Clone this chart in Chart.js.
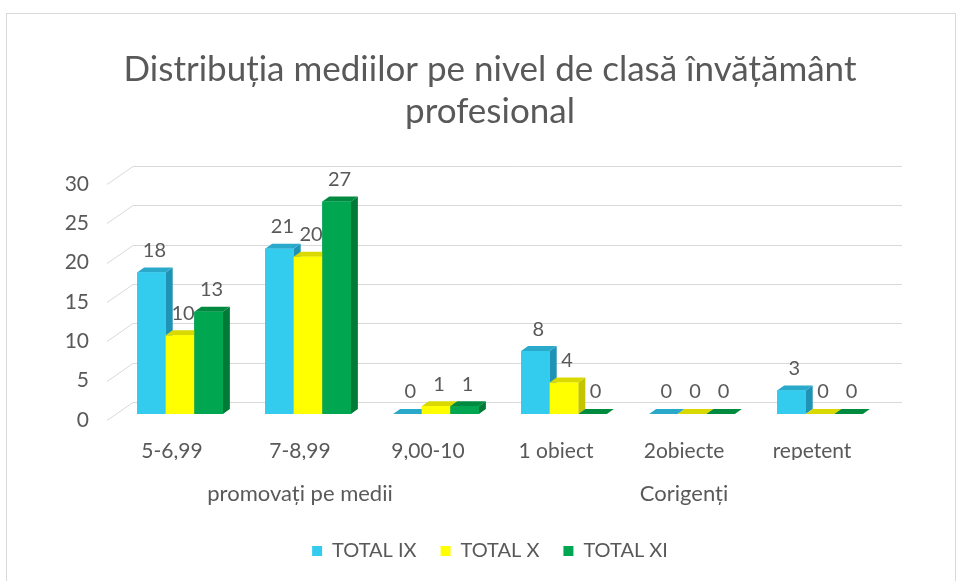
<!DOCTYPE html>
<html>
<head>
<meta charset="utf-8">
<script src="https://cdn.jsdelivr.net/npm/chart.js@4.4.1/dist/chart.umd.min.js"></script>
<style>
  body { margin: 0; background: #fff; }
  #frame { position: absolute; left: 6px; top: 13px; width: 948px; height: 580px; border: 1px solid #d9d9d9; }
  #wrap { position: absolute; left: 0; top: 0; width: 957px; height: 581px; }
</style>
</head>
<body>
<div id="frame"></div>
<div id="wrap"><canvas id="distChart" width="957" height="581"></canvas></div>
<script>
const categories = ['5-6,99', '7-8,99', '9,00-10', '1 obiect', '2obiecte', 'repetent'];
const groupLabels = ['', 'promovați pe medii', '', '', 'Corigenți', ''];
const totalIX = [18, 21, 0, 8, 0, 3];
const totalX = [10, 20, 1, 4, 0, 0];
const totalXI = [13, 27, 1, 0, 0, 0];
const yTicks = [0, 5, 10, 15, 20, 25, 30];

const textColor = '#595959';
const fontName = 'Lato, "Open Sans", sans-serif';

// front / side / top colours for the 3D look
const shades = [
    { front: '#33CCEE', side: '#1F93B5', top: '#2AA9CB' },
    { front: '#FFFF00', side: '#C4C400', top: '#D9D900' },
    { front: '#00A650', side: '#007A36', top: '#008A40' }
];
const depthX = 7, depthY = 5;

var ctx = document.getElementById('distChart').getContext('2d');

// 3D floor/back grid
const gridPlugin = {
    id: 'grid3d',
    beforeDatasetsDraw(chart) {
        const c = chart.ctx, y = chart.scales.y, a = chart.chartArea;
        c.save();
        c.strokeStyle = '#d9d9d9';
        c.lineWidth = 1;
        yTicks.forEach(v => {
            const py = Math.round(y.getPixelForValue(v)) + 0.5;
            c.beginPath();
            c.moveTo(a.left - 9, py + 6);
            c.lineTo(a.left + 17, py - 12);
            c.lineTo(a.right + 18, py - 12);
            c.stroke();
        });
        c.restore();
    }
};

// redraw bars with side and top faces, plus value labels
const barsPlugin = {
    id: 'bars3d',
    afterDatasetsDraw(chart) {
        const c = chart.ctx;
        c.save();
        for (let i = 0; i < categories.length; i++) {
            chart.data.datasets.forEach((ds, j) => {
                const bar = chart.getDatasetMeta(j).data[i];
                const l = bar.x - bar.width / 2, r = bar.x + bar.width / 2;
                const t = bar.y, b = bar.base;
                const s = shades[j];
                // side
                c.fillStyle = s.side;
                c.beginPath();
                c.moveTo(r, t); c.lineTo(r + depthX, t - depthY);
                c.lineTo(r + depthX, b - depthY); c.lineTo(r, b);
                c.closePath(); c.fill();
                // top
                c.fillStyle = s.top;
                c.beginPath();
                c.moveTo(l, t); c.lineTo(l + depthX, t - depthY);
                c.lineTo(r + depthX, t - depthY); c.lineTo(r, t);
                c.closePath(); c.fill();
                // front
                c.fillStyle = s.front;
                c.fillRect(l, t, r - l, b - t);
            });
        }
        c.fillStyle = textColor;
        c.font = '20px ' + fontName;
        c.textAlign = 'center';
        c.textBaseline = 'middle';
        chart.data.datasets.forEach((ds, j) => {
            chart.getDatasetMeta(j).data.forEach((bar, i) => {
                c.fillText(String(ds.data[i]), bar.x + 3, bar.y - 22);
            });
        });
        c.restore();
    }
};

const distChart = new Chart(ctx, {
    type: 'bar',
    data: {
        labels: categories,
        datasets: [
            { label: 'TOTAL IX', data: totalIX, backgroundColor: shades[0].front },
            { label: 'TOTAL X', data: totalX, backgroundColor: shades[1].front },
            { label: 'TOTAL XI', data: totalXI, backgroundColor: shades[2].front }
        ]
    },
    options: {
        responsive: false,
        animation: false,
        layout: { padding: { left: 60, right: 37, top: 0, bottom: 10 } },
        datasets: { bar: { categoryPercentage: 0.67, barPercentage: 1.0 } },
        scales: {
            x: {
                grid: { display: false, drawTicks: false },
                border: { display: false },
                afterFit(scale) { scale.height = 46; },
                ticks: { color: textColor, font: { size: 21, family: fontName }, padding: 25, labelOffset: -8, maxRotation: 0 }
            },
            x2: {
                type: 'category',
                labels: groupLabels,
                position: 'bottom',
                grid: { display: false, drawTicks: false },
                border: { display: false },
                afterFit(scale) { scale.height = 57; },
                ticks: { color: textColor, font: { size: 22, family: fontName }, padding: 21, labelOffset: -8, autoSkip: false, maxRotation: 0 }
            },
            y: {
                min: 0,
                max: 30,
                grid: { display: false, drawTicks: false },
                border: { display: false },
                afterFit(scale) { scale.width = 56; },
                ticks: { stepSize: 5, color: textColor, font: { size: 21, family: fontName }, padding: 27, labelOffset: 6 }
            },
            // empty spacer on the right so the title and legend centre like the original
            yr: {
                position: 'right',
                grid: { display: false, drawTicks: false },
                border: { display: false },
                ticks: { display: false },
                afterFit(scale) { scale.width = 36; }
            }
        },
        plugins: {
            title: {
                display: true,
                text: ['Distribuția mediilor pe nivel de clasă învățământ', 'profesional'],
                color: textColor,
                font: { size: 35, family: fontName, weight: 'normal', lineHeight: 1.2 },
                padding: { top: 49, bottom: 45 }
            },
            legend: {
                position: 'bottom',
                labels: {
                    color: textColor,
                    font: { size: 20, family: fontName },
                    boxWidth: 10,
                    boxHeight: 10,
                    padding: 24
                }
            },
            tooltip: { enabled: false }
        }
    },
    plugins: [gridPlugin, barsPlugin]
});
</script>
</body>
</html>
